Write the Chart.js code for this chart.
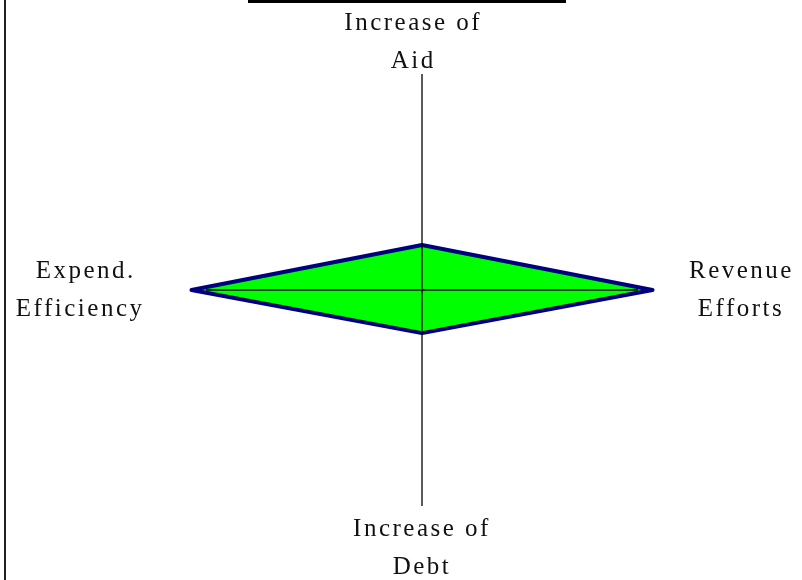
<!DOCTYPE html>
<html>
<head>
<meta charset="utf-8">
<script src="https://cdn.jsdelivr.net/npm/chart.js@4"></script>
<style>
  body { margin: 0; background: #fff; overflow: hidden; }
  #wrap { position: relative; width: 802px; height: 580px; overflow: hidden; }
  /* canvas runs a little past the frame so the captions sit close to the edges */
  #wrap canvas { position: absolute; left: -4px; top: 0; }
  .rule-top { position: absolute; left: 248px; top: 0; width: 318px; height: 3px; background: #000; }
  .rule-left { position: absolute; left: 4px; top: 0; width: 2px; height: 580px; background: #222; }
</style>
</head>
<body>
<div id="wrap">
  <canvas id="myChart" width="818" height="592"></canvas>
  <div class="rule-top"></div>
  <div class="rule-left"></div>
</div>
<script>
// axes clockwise from the top
const axes = [['Increase of  ', 'Aid  '], ['Revenue', ' Efforts'], ['Increase of', 'Debt'], ['Expend. ', 'Efficiency']]
const scores = [0.195, 1.0, 0.187, 1.0]
const axisMax = 0.937

// gap between each axis end and its label
const labelGap = [-6.5, 51, 4, 61.5]

// wider letter spacing for the axis captions
const spacing = {
  id: 'spacing',
  beforeLayout: (chart) => { chart.ctx.letterSpacing = '2.5px' },
  beforeDraw: (chart) => { chart.ctx.letterSpacing = '2.5px' }
}

new Chart('myChart', {
  type: 'radar',
  data: {
    labels: axes,
    datasets: [{
      data: scores,
      backgroundColor: '#00ff00',
      borderColor: '#000080',
      borderWidth: 4,
      borderJoinStyle: 'round',
      pointRadius: 0,
      pointHoverRadius: 0,
      fill: true
    }]
  },
  options: {
    responsive: false,
    animation: false,
    plugins: {
      legend: { display: false },
      tooltip: { enabled: false }
    },
    scales: {
      r: {
        min: 0,
        max: axisMax,
        ticks: { display: false },
        grid: { display: false, z: 1 },
        angleLines: { display: true, color: '#000', lineWidth: 1.3 },
        pointLabels: {
          color: '#111',
          font: { family: 'Liberation Serif', size: 25, lineHeight: '38px' },
          padding: (ctx) => labelGap[ctx.index]
        }
      }
    }
  },
  plugins: [spacing]
})
</script>
</body>
</html>
